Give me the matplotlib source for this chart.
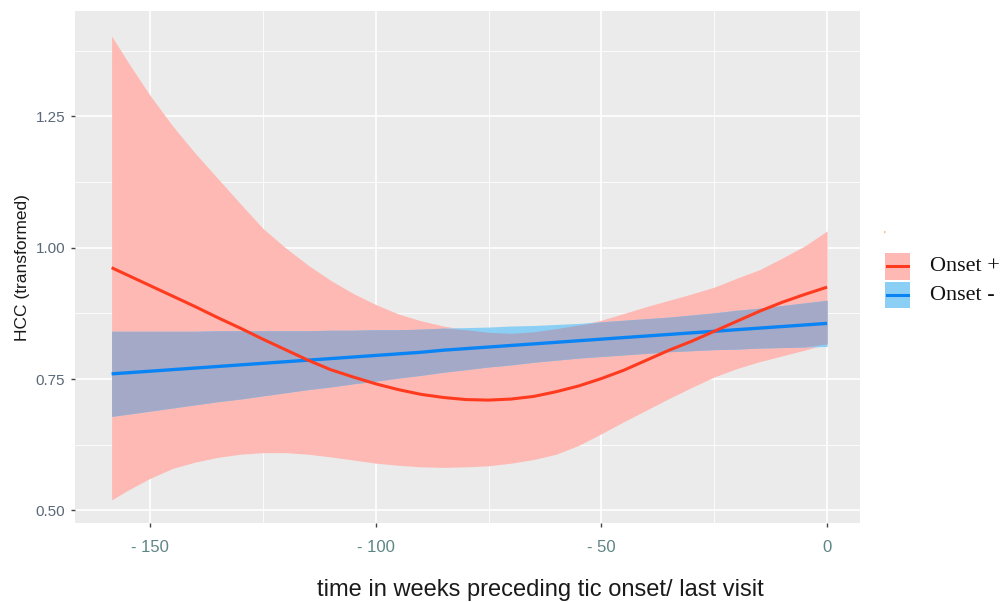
import matplotlib

matplotlib.use("Agg")
import matplotlib.pyplot as plt
import numpy as np

# weeks before tic onset / last visit
weeks = [-158.5, -155, -150, -145, -140, -135, -130, -125, -120, -115, -110,
         -105, -100, -95, -90, -85, -80, -75, -70, -65, -60, -55, -50,
         -45, -40, -35, -30, -25, -20, -15, -10, -5, 0]

# Onset + (loess fit with CI)
onset_pos_fit = [0.962, 0.948, 0.928, 0.908, 0.888, 0.867, 0.847, 0.826, 0.806, 0.786, 0.768,
                 0.754, 0.741, 0.730, 0.721, 0.715, 0.711, 0.710, 0.712, 0.717, 0.726, 0.737, 0.751,
                 0.767, 0.786, 0.805, 0.822, 0.841, 0.860, 0.879, 0.896, 0.911, 0.925]
onset_pos_hi = [1.403, 1.355, 1.290, 1.232, 1.180, 1.132, 1.084, 1.037, 1.000, 0.967, 0.938,
                0.913, 0.892, 0.874, 0.861, 0.851, 0.844, 0.839, 0.837, 0.840, 0.846, 0.853, 0.862,
                0.875, 0.888, 0.900, 0.912, 0.925, 0.942, 0.958, 0.980, 1.003, 1.032]
onset_pos_lo = [0.520, 0.538, 0.561, 0.580, 0.592, 0.601, 0.607, 0.610, 0.610, 0.607, 0.602,
                0.596, 0.590, 0.586, 0.583, 0.582, 0.583, 0.585, 0.590, 0.597, 0.607, 0.624, 0.646,
                0.669, 0.691, 0.713, 0.734, 0.754, 0.770, 0.783, 0.794, 0.805, 0.817]

# Onset - (linear fit with CI)
onset_neg_fit = [0.760, 0.762, 0.765, 0.768, 0.771, 0.774, 0.777, 0.780, 0.783, 0.786, 0.789,
                 0.792, 0.795, 0.798, 0.801, 0.805, 0.808, 0.811, 0.814, 0.817, 0.820, 0.823, 0.826,
                 0.829, 0.832, 0.835, 0.838, 0.841, 0.844, 0.847, 0.850, 0.853, 0.856]
onset_neg_hi = [0.841, 0.841, 0.841, 0.841, 0.841, 0.842, 0.842, 0.842, 0.842, 0.842, 0.843,
                0.843, 0.844, 0.844, 0.845, 0.847, 0.848, 0.849, 0.851, 0.852, 0.854, 0.856, 0.859,
                0.862, 0.865, 0.868, 0.872, 0.876, 0.881, 0.885, 0.890, 0.895, 0.900]
onset_neg_lo = [0.679, 0.683, 0.689, 0.695, 0.701, 0.707, 0.712, 0.718, 0.724, 0.730, 0.735,
                0.741, 0.746, 0.752, 0.757, 0.763, 0.768, 0.773, 0.777, 0.782, 0.786, 0.790, 0.793,
                0.796, 0.799, 0.802, 0.804, 0.806, 0.807, 0.809, 0.810, 0.811, 0.812]

x_ticks = [-150, -100, -50, 0]
x_tick_labels = ["- 150", "- 100", "- 50", "0"]
y_ticks = [0.50, 0.75, 1.00, 1.25]
y_tick_labels = ["0.50", "0.75", "1.00", "1.25"]
legend_labels = ["Onset +", "Onset -"]

RED_LINE = "#FF3B1F"
RED_FILL = "#FEB9B4"
BLUE_LINE = "#0A84F5"
BLUE_FILL = "#8BCFF4"
OVERLAP_FILL = "#A4A9C7"
PANEL_BG = "#EBEBEB"

plt.rcParams["font.family"] = ["Liberation Sans", "DejaVu Sans"]

fig = plt.figure(figsize=(10.06, 6.02), dpi=100)
ax = fig.add_axes([0.0746, 0.1307, 0.7803, 0.851])
ax.set_facecolor(PANEL_BG)

x = np.array(weeks)
pos_lo, pos_hi = np.array(onset_pos_lo), np.array(onset_pos_hi)
neg_lo, neg_hi = np.array(onset_neg_lo), np.array(onset_neg_hi)

ax.fill_between(x, pos_lo, pos_hi, color=RED_FILL, linewidth=0, zorder=2)
ax.fill_between(x, neg_lo, neg_hi, color=BLUE_FILL, linewidth=0, zorder=3)
ax.fill_between(x, np.maximum(pos_lo, neg_lo), np.minimum(pos_hi, neg_hi),
                color=OVERLAP_FILL, linewidth=0, zorder=4)
ax.plot(x, onset_neg_fit, color=BLUE_LINE, linewidth=2.4, zorder=5,
        solid_capstyle="butt")
ax.plot(x, onset_pos_fit, color=RED_LINE, linewidth=2.2, zorder=6,
        solid_capstyle="butt")

ax.set_xlim(-166.6, 7.3)
ax.set_ylim(0.4755, 1.4505)

ax.set_xticks(x_ticks)
ax.set_xticklabels(x_tick_labels, color="#5E8585", fontsize=12)
ax.set_yticks(y_ticks)
ax.set_yticklabels(y_tick_labels, color="#5A6878", fontsize=11)
ax.set_xticks([-125, -75, -25], minor=True)
ax.set_yticks([0.625, 0.875, 1.125, 1.375], minor=True)
ax.tick_params(axis="both", which="major", length=3, width=1.0, color="#444444", pad=4)
ax.tick_params(axis="x", which="major", pad=9)
ax.tick_params(axis="both", which="minor", length=0)

ax.grid(which="major", color="white", linewidth=1.2, zorder=0)
ax.grid(which="minor", color="white", linewidth=0.6, zorder=0)
ax.set_axisbelow(True)
for spine in ax.spines.values():
    spine.set_visible(False)

fig.text(0.022, 0.555, "HCC (transformed)", rotation=90, ha="center", va="center",
         fontsize=12.5, color="#1A1A1A")
fig.text(0.537, 0.002, "time in weeks preceding tic onset/ last visit",
         ha="center", va="bottom", fontsize=17, color="#1A1A1A")

# legend drawn by hand to mimic the pasted-in keys
key_x0, key_w = 885 / 1006, 25 / 1006
key_specs = [(RED_FILL, RED_LINE, 253, 280), (BLUE_FILL, BLUE_LINE, 282, 308)]
for (fill, line, top_px, bot_px), label in zip(key_specs, legend_labels):
    y0 = 1 - bot_px / 602
    h = (bot_px - top_px) / 602
    fig.patches.append(plt.Rectangle((key_x0, y0), key_w, h, transform=fig.transFigure,
                                     facecolor=fill, edgecolor="none"))
    ym = y0 + h / 2
    fig.add_artist(plt.Line2D([key_x0 + 0.002, key_x0 + key_w - 0.002], [ym, ym],
                              transform=fig.transFigure, color=line, linewidth=2.2))
    fig.text(930 / 1006, ym, label, ha="left", va="center", fontsize=16,
             family=["Liberation Serif", "DejaVu Serif"], color="#111111")

fig.text(884 / 1006, 1 - 236 / 602, "'", ha="center", va="center", fontsize=7,
         color="#F08020")

fig.savefig("out.png", dpi=100, facecolor="white")
